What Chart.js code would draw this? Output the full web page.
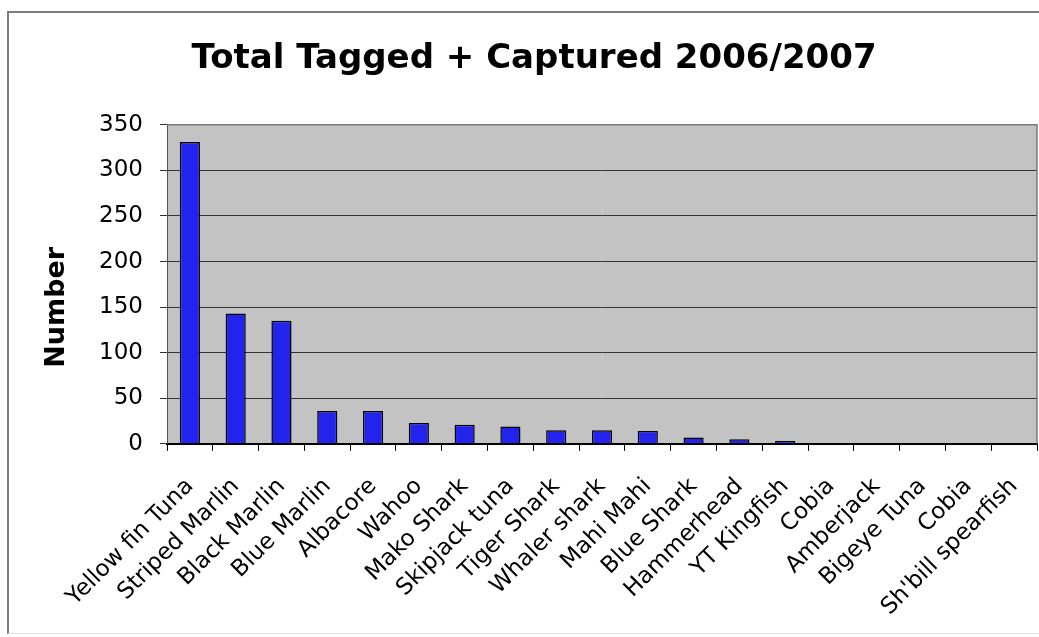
<!DOCTYPE html>
<html>
<head>
<meta charset="utf-8">
<script src="https://cdn.jsdelivr.net/npm/chart.js@4/dist/chart.umd.min.js"></script>
<style>
  html, body { margin: 0; padding: 0; background: #fff; }
  #wrap { position: relative; width: 1039px; height: 637px; overflow: hidden; }
  #frame {
    position: absolute; left: 7px; top: 11px; width: 1040px; height: 620px;
    border-left: 2px solid #7d7d7d; border-top: 2px solid #7d7d7d; border-bottom: 1px solid #e2e2e2;
  }
  #chart { position: absolute; left: 0; top: 0; }
</style>
</head>
<body>
<div id="wrap">
  <div id="frame"></div>
  <canvas id="chart" width="1039" height="637"></canvas>
</div>
<script>
  // --- Data ---
  const especies = ["Yellow fin Tuna", "Striped Marlin", "Black Marlin", "Blue Marlin", "Albacore", "Wahoo",
    "Mako Shark", "Skipjack tuna", "Tiger Shark", "Whaler shark", "Mahi Mahi", "Blue Shark", "Hammerhead",
    "YT Kingfish", "Cobia", "Amberjack", "Bigeye Tuna", "Cobia", "Sh'bill spearfish"];
  const totais = [331, 143, 135, 36, 36, 23, 21, 19, 15, 15, 14, 7, 5, 3, 1, 1, 1, 1, 1];
  const yMax = 350;
  const yStep = 50;

  const fonte = "'DejaVu Sans', Verdana, sans-serif";

  // fundo cinza da área do gráfico + borda de cima/direita
  const plotArea = {
    id: 'plotArea',
    beforeDraw(chart) {
      const { ctx, chartArea: a } = chart;
      ctx.save();
      ctx.fillStyle = '#c3c3c3';
      ctx.fillRect(a.left, a.top, a.right - a.left, a.bottom - a.top);
      ctx.restore();
    },
    afterDatasetsDraw(chart) {
      const { ctx, chartArea: a } = chart;
      ctx.save();
      ctx.strokeStyle = '#7a7a7a';
      ctx.lineWidth = 1.5;
      ctx.beginPath();
      ctx.moveTo(a.left, a.top);
      ctx.lineTo(a.right, a.top);
      ctx.lineTo(a.right, a.bottom);
      ctx.stroke();
      ctx.restore();
    }
  };

  // título do eixo Y, um pouco abaixo do centro
  const tituloEixo = {
    id: 'tituloEixo',
    afterDraw(chart) {
      const { ctx, chartArea: a } = chart;
      ctx.save();
      ctx.translate(a.left - 110, (a.top + a.bottom) / 2 + 23);
      ctx.rotate(-Math.PI / 2);
      ctx.font = `bold 27px ${fonte}`;
      ctx.fillStyle = '#000';
      ctx.textAlign = 'center';
      ctx.textBaseline = 'middle';
      ctx.fillText('Number', 0, 0);
      ctx.restore();
    }
  };

  new Chart(document.getElementById('chart'), {
    type: 'bar',
    data: {
      labels: especies,
      datasets: [{
        data: totais,
        backgroundColor: '#2323ee',
        borderColor: '#000',
        borderWidth: 1.5,
        categoryPercentage: 1,
        barPercentage: 0.44
      }]
    },
    options: {
      responsive: false,
      animation: false,
      layout: { padding: { left: 31, right: 2, top: 0, bottom: -6 } },
      plugins: {
        legend: { display: false },
        tooltip: { enabled: false },
        title: {
          display: true,
          text: 'Total Tagged + Captured 2006/2007',
          color: '#000',
          font: { family: fonte, size: 34, weight: 'bold' },
          padding: { top: 39, bottom: 45 }
        }
      },
      scales: {
        x: {
          // os rótulos inclinados não precisam de folga à direita
          afterFit(scale) { scale.paddingRight = 0; },
          grid: { offset: true, drawOnChartArea: false, tickLength: 7, color: '#000' },
          border: { color: '#000', width: 2 },
          ticks: {
            autoSkip: false, minRotation: 45, maxRotation: 45, padding: 22,
            color: '#000', font: { family: fonte, size: 23 }
          }
        },
        y: {
          min: 0, max: yMax,
          afterFit(scale) { scale.width = 136; },
          grid: { color: '#333', lineWidth: 1, tickLength: 7 },
          border: { color: '#555', width: 1 },
          ticks: { stepSize: yStep, padding: 17, color: '#000', font: { family: fonte, size: 23 } }
        }
      }
    },
    plugins: [plotArea, tituloEixo]
  });
</script>
</body>
</html>
